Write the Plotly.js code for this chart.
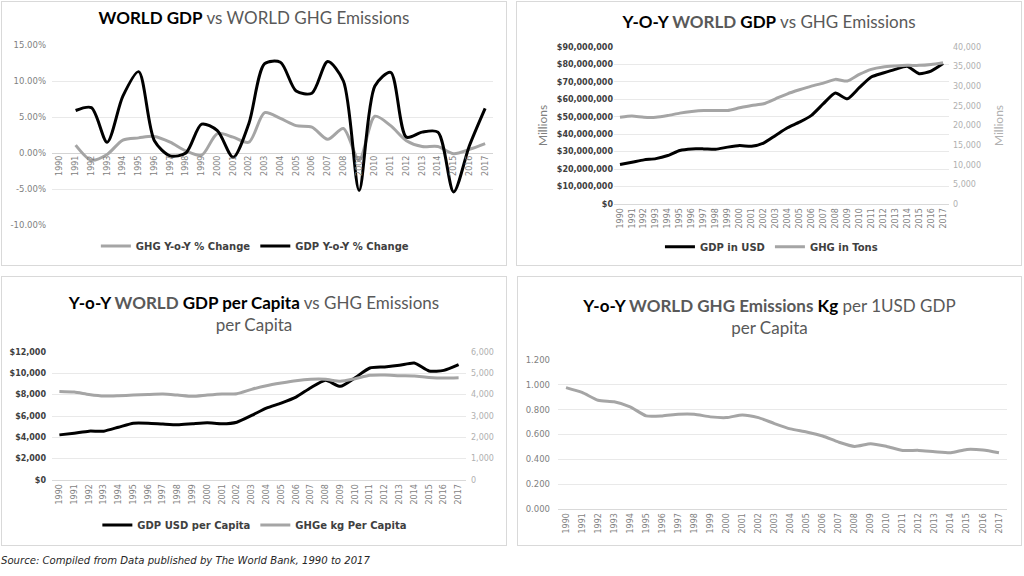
<!DOCTYPE html>
<html>
<head>
<meta charset="utf-8">
<script src="https://cdn.plot.ly/plotly-3.0.1.min.js"></script>
<style>
  html, body { margin: 0; padding: 0; background: #ffffff; }
  body { width: 1024px; height: 576px; position: relative; overflow: hidden; }
  .panel { position: absolute; }
  .frame { position: absolute; border: 1px solid #d9d9d9; box-sizing: border-box; pointer-events: none; }
  #source { position: absolute; left: 1px; top: 555px; font-family: "DejaVu Sans", sans-serif; font-style: italic; font-size: 10.1px; color: #262626; white-space: nowrap; }
</style>
</head>
<body>
<div class="frame" style="left:1px;top:1px;width:506px;height:265px;"></div>
<div class="frame" style="left:516px;top:1px;width:506px;height:265px;"></div>
<div class="frame" style="left:1px;top:276px;width:506px;height:270px;"></div>
<div class="frame" style="left:517px;top:276px;width:505px;height:270px;"></div>
<div id="p1" class="panel" style="left:1px;top:1px;width:506px;height:265px;"></div>
<div id="p2" class="panel" style="left:516px;top:1px;width:506px;height:265px;"></div>
<div id="p3" class="panel" style="left:1px;top:276px;width:506px;height:270px;"></div>
<div id="p4" class="panel" style="left:517px;top:276px;width:505px;height:270px;"></div>
<div id="source">Source: Compiled from Data published by The World Bank, 1990 to 2017</div>
<script>
// ---------- data ----------
const years = ["1990","1991","1992","1993","1994","1995","1996","1997","1998","1999","2000","2001","2002","2003","2004","2005","2006","2007","2008","2009","2010","2011","2012","2013","2014","2015","2016","2017"];

// Panel 1: year-on-year % change
const ghgYoY = [null, 1.1, -1.0, -0.2, 1.8, 2.1, 2.3, 1.5, 0.3, -0.3, 2.7, 2.2, 1.5, 5.6, 4.8, 3.8, 3.6, 1.9, 3.4, -1.0, 5.1, 3.8, 1.7, 0.9, 0.9, -0.1, 0.5, 1.3];
const gdpYoY = [null, 5.9, 6.3, 1.5, 7.9, 11.3, 1.7, -0.4, 0.0, 4.0, 3.1, -0.6, 4.1, 12.4, 12.6, 8.6, 8.3, 12.7, 10.0, -5.2, 9.3, 11.2, 2.2, 2.9, 2.9, -5.4, 1.0, 6.2];
const pctTickVals = [-10, -5, 0, 5, 10, 15];
const pctTickText = ["-10.00%", "-5.00%", "0.00%", "5.00%", "10.00%", "15.00%"];

// Panel 2: totals (Millions)
const gdpUsd = [22600000, 23900000, 25300000, 26000000, 27800000, 30700000, 31600000, 31600000, 31400000, 32600000, 33500000, 33100000, 34900000, 39300000, 43700000, 46900000, 50800000, 57500000, 63600000, 60300000, 66700000, 72800000, 75100000, 77200000, 78900000, 74700000, 76200000, 80500000];
const ghgTons = [22100, 22400, 22100, 22100, 22550, 23150, 23570, 23830, 23830, 23830, 24510, 25100, 25530, 26800, 28080, 29100, 30040, 30800, 31750, 31320, 33020, 34300, 34900, 35150, 35320, 35320, 35570, 36000];

// Panel 3: per capita
const gdpPerCapita = [4230, 4390, 4580, 4580, 4950, 5330, 5330, 5240, 5170, 5270, 5360, 5270, 5420, 6050, 6740, 7210, 7770, 8650, 9340, 8780, 9590, 10500, 10600, 10750, 10970, 10220, 10280, 10820];
const ghgPerCapita = [4150, 4120, 4010, 3935, 3950, 3980, 4010, 4030, 3980, 3920, 3980, 4030, 4045, 4250, 4420, 4545, 4655, 4720, 4720, 4625, 4750, 4905, 4920, 4890, 4875, 4810, 4780, 4795];

// Panel 4: GHG kg per 1 USD GDP per capita
const ghgPerUsd = [0.978, 0.939, 0.876, 0.863, 0.823, 0.750, 0.750, 0.763, 0.763, 0.742, 0.736, 0.758, 0.736, 0.688, 0.645, 0.620, 0.588, 0.539, 0.504, 0.526, 0.504, 0.472, 0.472, 0.461, 0.453, 0.480, 0.475, 0.453];

// ---------- styles ----------
const BLACK = "#000000";
const GREY = "#a5a5a5";
const TITLE_GREY = "#595959";
const FONT = "Lato, 'Open Sans', sans-serif";
const TICKFONT = "'DejaVu Sans', sans-serif";
const LEGFONT = "'DejaVu Sans', sans-serif";
const GRID = "#e9e9e9";
const cfg = {staticPlot: true, displayModeBar: false};

function xAxisBase() {
  return {
    type: "category", categoryorder: "array", categoryarray: years,
    range: [-0.5, years.length - 0.5], tickangle: -90,
    tickfont: {family: TICKFONT, size: 8, color: "#7f7f7f"},
    showgrid: false, zeroline: false, showline: true, linecolor: "#d9d9d9", linewidth: 1,
    ticks: "", fixedrange: true, automargin: false
  };
}
function titleObj(text, y, size) {
  return {text: text, x: 0.5, xanchor: "center", y: y, yanchor: "middle",
          font: {family: FONT, size: size, color: TITLE_GREY}};
}
function legendObj(x, y) {
  return {orientation: "h", x: x, xanchor: "center", y: y, yanchor: "middle", yref: "container",
          font: {family: LEGFONT, size: 10, color: "#404040", weight: "bold"},
          bgcolor: "rgba(0,0,0,0)", itemwidth: 30, tracegroupgap: 0, traceorder: "normal"};
}

// ---------- Panel 1 ----------
Plotly.newPlot("p1", [
  {x: years, y: ghgYoY, name: "GHG Y-o-Y % Change", type: "scatter", mode: "lines",
   line: {color: GREY, width: 3, shape: "spline", smoothing: 0.8}},
  {x: years, y: gdpYoY, name: "GDP Y-o-Y % Change", type: "scatter", mode: "lines",
   line: {color: BLACK, width: 3, shape: "spline", smoothing: 0.8}}
], {
  width: 506, height: 265,
  margin: {l: 51, r: 14, t: 44, b: 41},
  paper_bgcolor: "rgba(0,0,0,0)", plot_bgcolor: "rgba(0,0,0,0)",
  title: titleObj("<b><span style='color:#000'>WORLD GDP</span></b> vs WORLD GHG Emissions", 1 - 17/265, 17),
  xaxis: Object.assign(xAxisBase(), {anchor: "free", position: 10/25, showline: false}),
  yaxis: {range: [-10, 15], tickvals: pctTickVals, ticktext: pctTickText,
          tickfont: {family: TICKFONT, size: 8.5, color: "#7f7f7f"}, ticklabelstandoff: 5,
          showgrid: true, gridcolor: GRID, zeroline: true, zerolinecolor: "#d4d4d4", zerolinewidth: 1,
          showline: false, ticks: "", fixedrange: true, automargin: false},
  showlegend: true,
  legend: legendObj(0.46, 1 - 245/265)
}, cfg);

// ---------- Panel 2 ----------
Plotly.newPlot("p2", [
  {x: years, y: gdpUsd, name: "GDP in USD", type: "scatter", mode: "lines",
   line: {color: BLACK, width: 3, shape: "spline", smoothing: 0.6}},
  {x: years, y: ghgTons, name: "GHG in Tons", type: "scatter", mode: "lines", yaxis: "y2",
   line: {color: GREY, width: 3, shape: "spline", smoothing: 0.6}}
], {
  width: 506, height: 265,
  margin: {l: 98, r: 73, t: 46, b: 62},
  paper_bgcolor: "rgba(0,0,0,0)", plot_bgcolor: "rgba(0,0,0,0)",
  title: titleObj("<b><span style='color:#000'>Y-O-Y</span> WORLD <span style='color:#000'>GDP</span></b> vs GHG Emissions", 1 - 21/265, 17),
  xaxis: xAxisBase(),
  yaxis: {range: [0, 90000000], dtick: 10000000, tickprefix: "$", tickformat: ",d",
          tickfont: {family: TICKFONT, size: 8, color: "#404040", weight: "bold"},
          title: {text: "Millions", font: {family: FONT, size: 12, color: "#7f7f7f"}, standoff: 6},
          showgrid: true, gridcolor: GRID, zeroline: false, showline: false, ticks: "", fixedrange: true, automargin: false},
  yaxis2: {range: [0, 40000], dtick: 5000, tickformat: ",d", overlaying: "y", side: "right",
           tickfont: {family: TICKFONT, size: 8, color: "#b0b0b0"}, ticklabelstandoff: 3,
           title: {text: "Millions", font: {family: FONT, size: 12, color: "#b0b0b0"}, standoff: 14},
           showgrid: false, zeroline: false, showline: false, ticks: "", fixedrange: true, automargin: false},
  showlegend: true,
  legend: legendObj(0.47, 1 - 245.7/265)
}, cfg);

// ---------- Panel 3 ----------
Plotly.newPlot("p3", [
  {x: years, y: gdpPerCapita, name: "GDP USD per Capita", type: "scatter", mode: "lines",
   line: {color: BLACK, width: 3, shape: "spline", smoothing: 0.6}},
  {x: years, y: ghgPerCapita, name: "GHGe kg Per Capita", type: "scatter", mode: "lines", yaxis: "y2",
   line: {color: GREY, width: 3, shape: "spline", smoothing: 0.6}}
], {
  width: 506, height: 270,
  margin: {l: 51, r: 41, t: 76, b: 66},
  paper_bgcolor: "rgba(0,0,0,0)", plot_bgcolor: "rgba(0,0,0,0)",
  title: titleObj("<b><span style='color:#000'>Y-o-Y</span> WORLD <span style='color:#000'>GDP per Capita</span></b> vs GHG Emissions<br>per Capita", 1 - 33/270, 17),
  xaxis: xAxisBase(),
  yaxis: {range: [0, 12000], dtick: 2000, tickprefix: "$", tickformat: ",d",
          tickfont: {family: TICKFONT, size: 8, color: "#404040", weight: "bold"}, ticklabelstandoff: 5,
          showgrid: true, gridcolor: GRID, zeroline: false, showline: false, ticks: "", fixedrange: true, automargin: false},
  yaxis2: {range: [0, 6000], dtick: 1000, tickformat: ",d", overlaying: "y", side: "right",
           tickfont: {family: TICKFONT, size: 8, color: "#b0b0b0"}, ticklabelstandoff: 4,
           showgrid: false, zeroline: false, showline: false, ticks: "", fixedrange: true, automargin: false},
  showlegend: true,
  legend: legendObj(0.49, 1 - 249/270)
}, cfg);

// ---------- Panel 4 ----------
Plotly.newPlot("p4", [
  {x: years, y: ghgPerUsd, name: "GHG kg per 1USD GDP per Capita", type: "scatter", mode: "lines",
   line: {color: GREY, width: 3, shape: "spline", smoothing: 0.6}}
], {
  width: 505, height: 270,
  margin: {l: 41, r: 15, t: 84, b: 37},
  paper_bgcolor: "rgba(0,0,0,0)", plot_bgcolor: "rgba(0,0,0,0)",
  title: titleObj("<b><span style='color:#000'>Y-o-Y</span> WORLD GHG Emissions <span style='color:#000'>Kg</span></b> per 1USD GDP<br>per Capita", 1 - 36/270, 17),
  xaxis: xAxisBase(),
  yaxis: {range: [0, 1.2], dtick: 0.2, tickformat: ".3f",
          tickfont: {family: TICKFONT, size: 8.5, color: "#7f7f7f"}, ticklabelstandoff: 7,
          showgrid: true, gridcolor: GRID, zeroline: false, showline: false, ticks: "", fixedrange: true, automargin: false},
  showlegend: false
}, cfg);
</script>
</body>
</html>
